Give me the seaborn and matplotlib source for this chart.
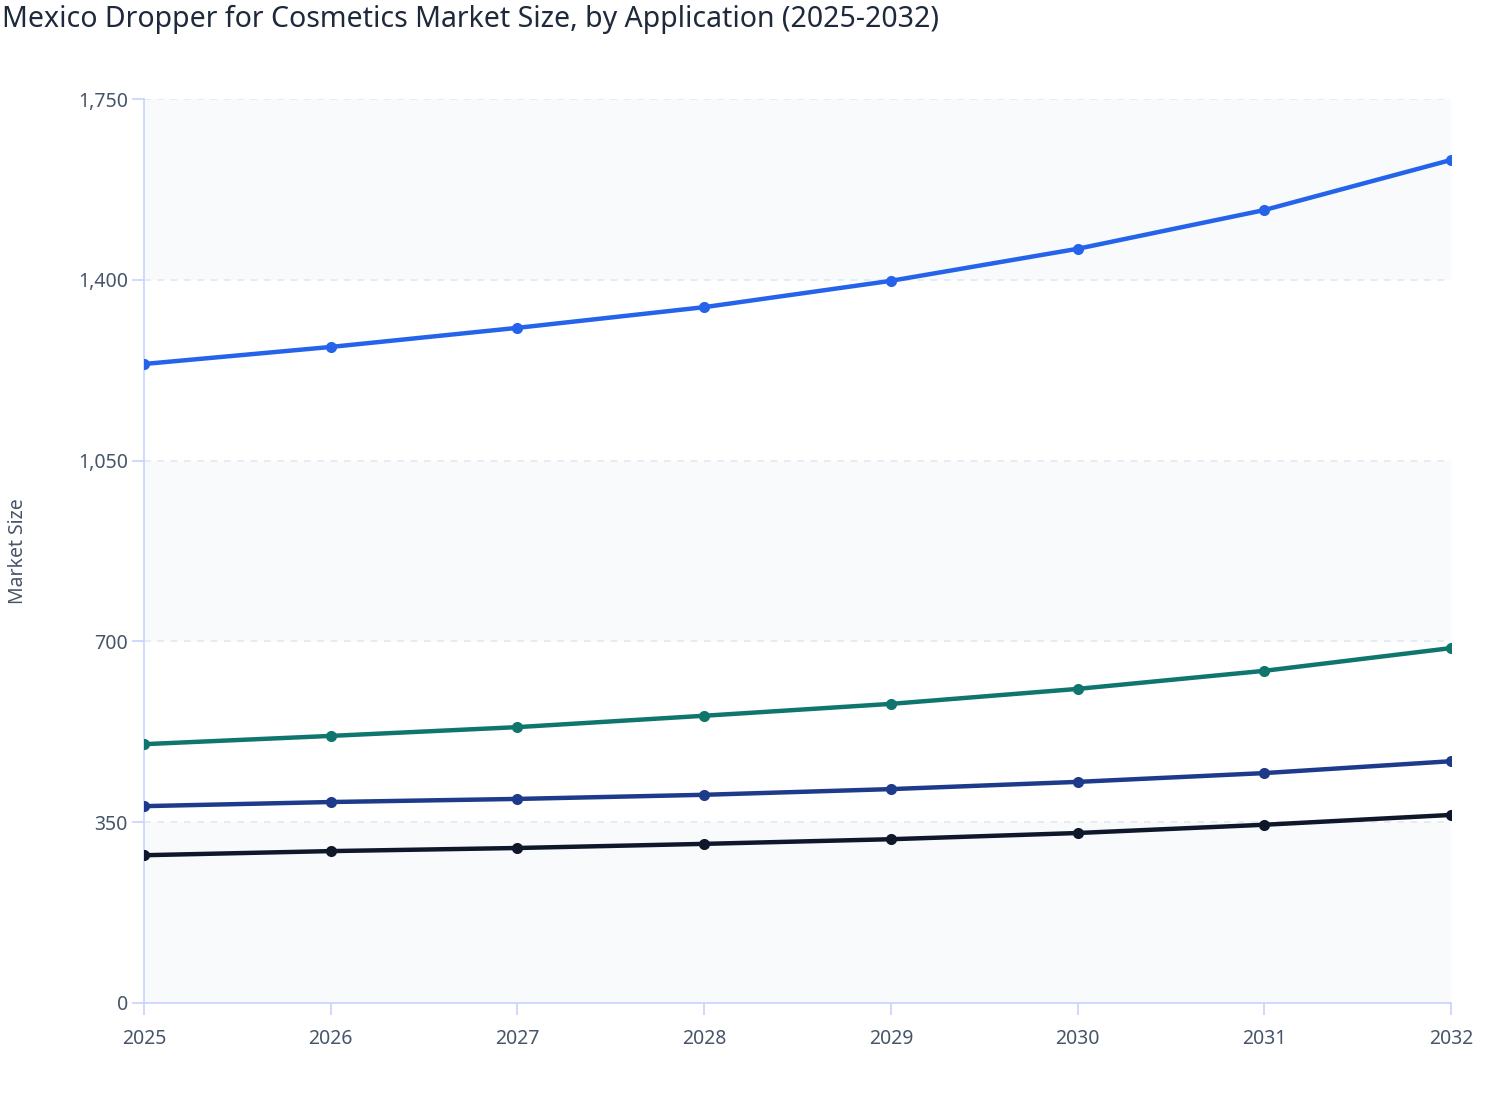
import matplotlib.pyplot as plt
import seaborn as sns
import pandas as pd
from matplotlib.ticker import FuncFormatter

years = [2025, 2026, 2027, 2028, 2029, 2030, 2031, 2032]
app_a = [1237, 1270, 1307, 1347, 1398, 1460, 1535, 1632]
app_b = [501, 517, 534, 556, 579, 608, 643, 687]
app_c = [381, 389, 395, 403, 414, 428, 445, 468]
app_d = [286, 294, 300, 308, 317, 329, 345, 364]
series_names = ["Application A", "Application B", "Application C", "Application D"]
colors = ["#2563eb", "#0f766e", "#1e3a8a", "#0f172a"]
y_ticks = [0, 350, 700, 1050, 1400, 1750]

rows = []
for name, vals in zip(series_names, [app_a, app_b, app_c, app_d]):
    for yr, v in zip(years, vals):
        rows.append({"Year": yr, "Market Size": v, "Application": name})
data = pd.DataFrame(rows)

sns.set_style("white")
plt.rcParams["font.family"] = ["Noto Sans", "DejaVu Sans"]

fig = plt.figure(figsize=(15.08, 11.2), dpi=100)
ax = fig.add_axes([0.0955, 0.1045, 0.8667, 0.8071])
ax.set_facecolor("white")

# alternating background bands
for i in range(len(y_ticks) - 1):
    if i % 2 == 0:
        ax.axhspan(y_ticks[i], y_ticks[i + 1], color="#f8fafc", zorder=0, lw=0)
for t in y_ticks[1:]:
    ax.axhline(t, color="#e2e8f0", lw=1.2, ls=(0, (4, 4)), zorder=1)

sns.lineplot(data=data, x="Year", y="Market Size", hue="Application",
             palette=colors, linewidth=3.2, marker="o", markersize=8,
             markeredgewidth=0, legend=False, ax=ax, zorder=3)

ax.set_xlim(2025, 2032)
ax.set_ylim(0, 1750)
ax.set_xticks(years)
ax.set_yticks(y_ticks)
ax.yaxis.set_major_formatter(FuncFormatter(lambda v, p: f"{int(v):,}"))

for side in ["top", "right"]:
    ax.spines[side].set_visible(False)
for side in ["left", "bottom"]:
    ax.spines[side].set_color("#c7d2fe")
    ax.spines[side].set_linewidth(1.2)
ax.tick_params(axis="both", direction="out", length=8.5, width=1.2,
               color="#c7d2fe", labelsize=14, labelcolor="#475569",
               bottom=True, left=True)
ax.tick_params(axis="x", pad=10)
ax.tick_params(axis="y", pad=3)

ax.set_xlabel("")
ax.set_ylabel("Market Size", fontsize=14, color="#475569")
ax.yaxis.set_label_coords(-0.089, 0.5)

fig.text(0.001, 0.996, "Mexico Dropper for Cosmetics Market Size, by Application (2025-2032)",
         fontsize=20.5, color="#1e293b", ha="left", va="top", fontweight="medium")

fig.savefig("out.png", dpi=100)
